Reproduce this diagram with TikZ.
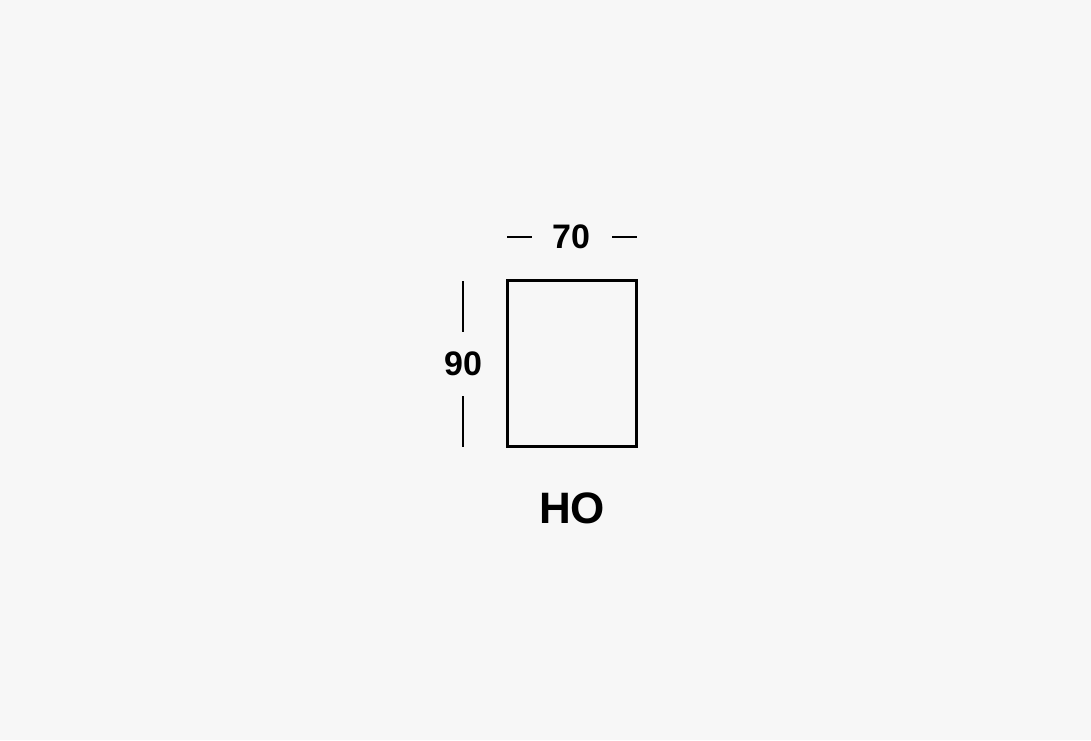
\documentclass[tikz,border=0pt]{standalone}
\usepackage{fontspec}
\setmainfont{Liberation Sans}
\usepackage{tikz}
\definecolor{Paper}{HTML}{F7F7F7}
\tikzstyle{none}=[inner sep=0pt]
\tikzstyle{simple}=[-,draw=black,line width=1.2pt]
\tikzstyle{thick box}=[-,draw=black,line width=3.4pt]
\tikzstyle{size label}=[inner sep=0pt,font=\bfseries\fontsize{34}{40}\selectfont]
\tikzstyle{name label}=[inner sep=0pt,font=\bfseries\fontsize{44}{52}\selectfont]
\begin{document}
\begin{tikzpicture}[x=1pt,y=-1pt]
  \fill [Paper] (0,0) rectangle (1091,740);
  \useasboundingbox (0,0) rectangle (1091,740);
  \node [style=none] (0) at (507.5, 280.5) {};
  \node [style=none] (1) at (636.5, 280.5) {};
  \node [style=none] (2) at (636.5, 446.5) {};
  \node [style=none] (3) at (507.5, 446.5) {};
  \node [style=size label] (4) at (571, 237) {70};
  \node [style=none] (5) at (507, 237) {};
  \node [style=none] (6) at (532, 237) {};
  \node [style=none] (7) at (612, 237) {};
  \node [style=none] (8) at (637, 237) {};
  \node [style=size label] (9) at (463, 364) {90};
  \node [style=none] (10) at (463, 281) {};
  \node [style=none] (11) at (463, 332) {};
  \node [style=none] (12) at (463, 396) {};
  \node [style=none] (13) at (463, 447) {};
  \node [style=name label] (14) at (572, 508.5) {HO};
  \draw [style=thick box] (0.center) to (1.center) to (2.center) to (3.center) -- cycle;
  \draw [style=simple] (5.center) to (6.center);
  \draw [style=simple] (7.center) to (8.center);
  \draw [style=simple] (10.center) to (11.center);
  \draw [style=simple] (12.center) to (13.center);
\end{tikzpicture}
\end{document}
